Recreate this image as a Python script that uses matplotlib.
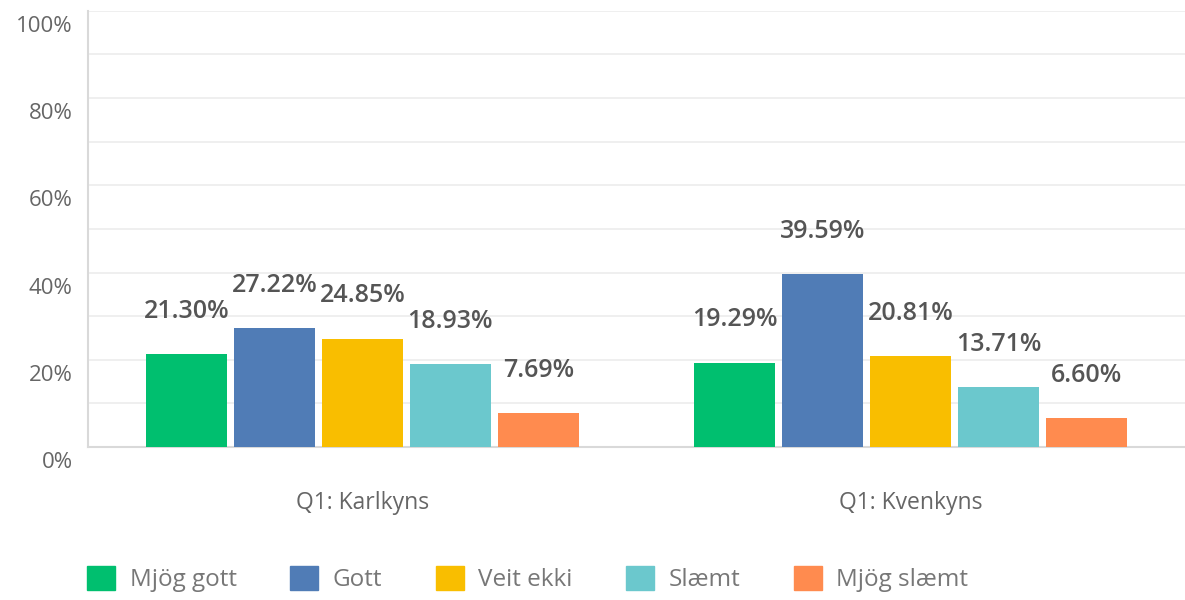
import matplotlib
matplotlib.use("Agg")
import matplotlib.pyplot as plt
import matplotlib.transforms as mtransforms
from matplotlib.patches import Patch
import numpy as np

groups = ["Q1: Karlkyns", "Q1: Kvenkyns"]
answers = ["Mjög gott", "Gott", "Veit ekki", "Slæmt", "Mjög slæmt"]
values = [
    [21.30, 19.29],   # Mjög gott
    [27.22, 39.59],   # Gott
    [24.85, 20.81],   # Veit ekki
    [18.93, 13.71],   # Slæmt
    [7.69, 6.60],     # Mjög slæmt
]
colors = ["#00bf6f", "#507cb6", "#f9be00", "#6bc8cd", "#ff8b4f"]
yticks = [0, 20, 40, 60, 80, 100]

plt.rcParams['font.family'] = ['Open Sans', 'DejaVu Sans']

fig = plt.figure(figsize=(11.85, 6), dpi=100)
ax = fig.add_axes([0.0743, 0.255, 0.9257, 0.727])

x = np.arange(len(groups))
pitch = 0.1605
width = 0.148
for i, (name, vals) in enumerate(zip(answers, values)):
    pos = x + (i - 2) * pitch
    ax.bar(pos, vals, width, color=colors[i], label=name, zorder=3)
    for px, v in zip(pos, vals):
        ax.annotate("%.2f%%" % v, (px, v), xytext=(0, 31), textcoords="offset points",
                    ha="center", va="center", fontsize=18, color="#555555",
                    fontweight="semibold", zorder=4)

ax.set_xlim(-0.5, 1.5)
ax.set_ylim(0, 100)
ax.set_yticks(np.arange(0, 101, 10))
ax.set_yticklabels([("%d%%" % t) if t in yticks else "" for t in range(0, 101, 10)])
ax.grid(axis="y", color="#ececec", linewidth=1.2, zorder=0)
ax.tick_params(axis="y", length=0, pad=11, labelsize=16, labelcolor="#666666")
ax.set_xticks(x)
ax.set_xticklabels(groups)
ax.tick_params(axis="x", length=0, pad=32, labelsize=16.5, labelcolor="#666666")

shift = mtransforms.ScaledTranslation(0, -0.13, fig.dpi_scale_trans)
for lab in ax.get_yticklabels():
    lab.set_transform(lab.get_transform() + shift)

for s in ["top", "right"]:
    ax.spines[s].set_visible(False)
ax.spines["left"].set_color("#d9d9d9")
ax.spines["left"].set_linewidth(1.5)
ax.spines["bottom"].set_color("#d9d9d9")
ax.spines["bottom"].set_linewidth(1.5)

handles = [Patch(facecolor=c, edgecolor=c, label=a) for c, a in zip(colors, answers)]
fig.legend(handles=handles, loc="center left", bbox_to_anchor=(0.055, 0.035), ncol=5,
           frameon=False, fontsize=17.5, labelcolor="#777777", handlelength=1.15,
           handleheight=1.15, handletextpad=0.6, columnspacing=2.2)

fig.savefig("out.png", dpi=100)
